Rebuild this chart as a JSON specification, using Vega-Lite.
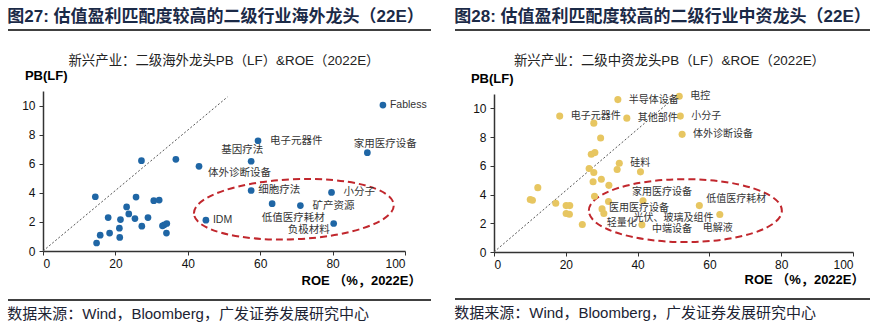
{
  "$schema": "https://vega.github.io/schema/vega-lite/v6.json",
  "background": "white",
  "padding": {"left": 7, "top": 8, "right": 0, "bottom": 0},
  "config": {
    "view": {"stroke": null},
    "axis": {
      "grid": false,
      "domainColor": "#333",
      "domainWidth": 1.5,
      "tickColor": "#333",
      "tickSize": 4,
      "labelFont": "Liberation Sans",
      "labelFontSize": 12,
      "labelColor": "#111",
      "labelPadding": 3,
      "titleFont": "Liberation Sans, Noto Sans CJK SC",
      "titleFontSize": 13,
      "titleFontWeight": "bold",
      "titleColor": "#000"
    },
    "axisY": {"labelPadding": 4}
  },
  "datasets": {
    "seg": [{"a": 0, "b": 1, "h": 1}],
    "left": [
      {"name": "", "roe": 14.45, "pb": 3.73},
      {"name": "", "roe": 14.8, "pb": 0.55},
      {"name": "", "roe": 15.8, "pb": 1.09},
      {"name": "", "roe": 18.0, "pb": 2.3},
      {"name": "", "roe": 18.4, "pb": 1.23},
      {"name": "", "roe": 21.1, "pb": 1.57},
      {"name": "", "roe": 21.2, "pb": 0.93},
      {"name": "", "roe": 21.4, "pb": 2.16},
      {"name": "", "roe": 23.1, "pb": 3.03},
      {"name": "", "roe": 23.7, "pb": 2.55},
      {"name": "", "roe": 25.4, "pb": 2.23},
      {"name": "", "roe": 25.7, "pb": 3.71},
      {"name": "", "roe": 27.3, "pb": 1.71},
      {"name": "", "roe": 29.0, "pb": 2.3},
      {"name": "", "roe": 30.6, "pb": 3.46},
      {"name": "", "roe": 32.1, "pb": 3.5},
      {"name": "", "roe": 33.0, "pb": 1.73},
      {"name": "", "roe": 33.5, "pb": 1.8},
      {"name": "", "roe": 34.2, "pb": 1.89},
      {"name": "", "roe": 34.1, "pb": 1.23},
      {"name": "", "roe": 27.2, "pb": 6.21},
      {"name": "", "roe": 36.7, "pb": 6.3},
      {"name": "IDM", "roe": 45.0, "pb": 2.12},
      {"name": "体外诊断设备", "roe": 43.1, "pb": 5.82},
      {"name": "Fabless", "roe": 93.9, "pb": 10.03},
      {"name": "电子元器件", "roe": 59.4, "pb": 7.58},
      {"name": "基因疗法", "roe": 57.5, "pb": 6.17},
      {"name": "家用医疗设备", "roe": 89.6, "pb": 6.76},
      {"name": "细胞疗法", "roe": 57.5, "pb": 4.16},
      {"name": "小分子", "roe": 79.7, "pb": 4.03},
      {"name": "低值医疗耗材", "roe": 63.3, "pb": 3.25},
      {"name": "矿产资源", "roe": 71.1, "pb": 3.12},
      {"name": "负极材料", "roe": 80.3, "pb": 1.89}
    ],
    "right": [
      {"name": "半导体设备", "roe": 34.5, "pb": 10.61},
      {"name": "电子元器件", "roe": 18.3, "pb": 9.46},
      {"name": "", "roe": 27.8, "pb": 8.97},
      {"name": "其他部件", "roe": 37.0, "pb": 9.32},
      {"name": "", "roe": 29.7, "pb": 7.94},
      {"name": "", "roe": 27.1, "pb": 6.8},
      {"name": "", "roe": 28.1, "pb": 6.92},
      {"name": "硅料", "roe": 34.9, "pb": 6.18},
      {"name": "", "roe": 26.5, "pb": 5.81},
      {"name": "", "roe": 27.8, "pb": 5.54},
      {"name": "", "roe": 34.3, "pb": 5.74},
      {"name": "", "roe": 40.8, "pb": 5.58},
      {"name": "", "roe": 12.2, "pb": 4.48},
      {"name": "", "roe": 27.6, "pb": 4.89},
      {"name": "", "roe": 29.9, "pb": 5.07},
      {"name": "", "roe": 32.0, "pb": 4.64},
      {"name": "", "roe": 28.0, "pb": 3.88},
      {"name": "光伏、玻璃及组件", "roe": 31.9, "pb": 3.51},
      {"name": "家用医疗设备", "roe": 41.5, "pb": 3.57},
      {"name": "", "roe": 10.1, "pb": 3.65},
      {"name": "", "roe": 10.7, "pb": 3.6},
      {"name": "", "roe": 17.2, "pb": 3.39},
      {"name": "", "roe": 20.1, "pb": 3.23},
      {"name": "", "roe": 21.1, "pb": 3.23},
      {"name": "", "roe": 20.1, "pb": 2.68},
      {"name": "", "roe": 21.0, "pb": 2.63},
      {"name": "", "roe": 24.6, "pb": 1.92},
      {"name": "医用医疗设备", "roe": 30.1, "pb": 3.0},
      {"name": "轻量化", "roe": 30.6, "pb": 2.68},
      {"name": "中端设备", "roe": 41.2, "pb": 1.89},
      {"name": "电控", "roe": 51.6, "pb": 10.84},
      {"name": "小分子", "roe": 51.9, "pb": 9.46},
      {"name": "体外诊断设备", "roe": 52.4, "pb": 8.19},
      {"name": "低值医疗耗材", "roe": 57.2, "pb": 3.23},
      {"name": "电解液", "roe": 62.9, "pb": 2.61}
    ],
    "diagL": [{"roe": 0, "pb": 0}, {"roe": 51, "pb": 10.6}],
    "diagR": [{"roe": 0, "pb": 0}, {"roe": 51, "pb": 10.9}],
    "ellL": [{"roe": 69.3, "pb": 2.87}],
    "ellR": [{"roe": 53.3, "pb": 2.88}]
  },
  "spacing": 22,
  "hconcat": [
    {
      "columns": 1,
      "align": "each",
      "spacing": 12,
      "concat": [
        {
          "width": 362,
          "height": 11,
          "data": {"name": "seg"},
          "title": {"text": "图27: 估值盈利匹配度较高的二级行业海外龙头（22E）", "anchor": "start", "frame": "bounds", "offset": 3, "fontSize": 17, "fontWeight": "bold", "font": "Liberation Sans, Noto Sans CJK SC", "color": "#1b2a47"},
          "mark": {"type": "rule", "color": "#000", "strokeWidth": 1.5},
          "encoding": {
            "x": {"field": "a", "type": "quantitative", "scale": {"domain": [0, 1], "range": [-35, 388]}, "axis": null},
            "x2": {"field": "b"},
            "y": {"field": "h", "type": "quantitative", "scale": {"domain": [0, 1]}, "axis": null}
          }
        },
        {
          "width": 362,
          "height": 160,
          "title": {"text": "新兴产业：二级海外龙头PB（LF）&ROE（2022E）", "anchor": "middle", "frame": "group", "offset": 2, "fontSize": 13.4, "fontWeight": "normal", "font": "Liberation Sans, Noto Sans CJK SC", "color": "#222"},
          "encoding": {
            "x": {"field": "roe", "type": "quantitative", "scale": {"domain": [0, 100], "nice": false, "zero": false},
                  "axis": {"values": [0, 20, 40, 60, 80, 100], "title": "ROE （%，2022E）", "titleAngle": 0, "titleAlign": "right", "titleBaseline": "middle", "titleX": 378, "titleY": 29}},
            "y": {"field": "pb", "type": "quantitative", "scale": {"domain": [0, 11], "nice": false, "zero": false},
                  "axis": {"values": [0, 2, 4, 6, 8, 10], "title": "PB(LF)", "titleAngle": 0, "titleAlign": "right", "titleBaseline": "middle", "titleX": 24, "titleY": -16}}
          },
          "layer": [
            {"data": {"name": "diagL"}, "mark": {"type": "line", "color": "#555", "strokeWidth": 1, "strokeDash": [2, 2]}},
            {"data": {"name": "ellL"}, "mark": {"type": "point", "shape": "M-1,0C-1,-0.1657,-0.5523,-0.3,0,-0.3C0.5523,-0.3,1,-0.1657,1,0C1,0.1657,0.5523,0.3,0,0.3C-0.5523,0.3,-1,0.1657,-1,0Z", "size": 40000, "filled": false, "stroke": "#c1272d", "strokeWidth": 2, "strokeDash": [7, 4], "angle": -2.5, "opacity": 1}},
            {"data": {"name": "left"}, "mark": {"type": "circle", "size": 45, "color": "#1f66a5", "opacity": 1}},
            {"data": {"name": "left"}, "transform": [{"filter": {"field": "name", "oneOf": ["Fabless", "细胞疗法", "IDM"]}}],
             "mark": {"type": "text", "align": "left", "baseline": "middle", "dx": 7, "dy": 0, "font": "Liberation Sans, Noto Sans CJK SC", "fontSize": 10.5, "color": "#333"},
             "encoding": {"text": {"field": "name"}}},
            {"data": {"name": "left"}, "transform": [{"filter": {"field": "name", "oneOf": ["电子元器件", "小分子", "矿产资源"]}}],
             "mark": {"type": "text", "align": "left", "baseline": "middle", "dx": 12, "dy": 0, "font": "Liberation Sans, Noto Sans CJK SC", "fontSize": 10.5, "color": "#333"},
             "encoding": {"text": {"field": "name"}}},
            {"data": {"name": "left"}, "transform": [{"filter": {"field": "name", "equal": "体外诊断设备"}}],
             "mark": {"type": "text", "align": "left", "baseline": "middle", "dx": 9, "dy": 7, "font": "Liberation Sans, Noto Sans CJK SC", "fontSize": 10.5, "color": "#333"},
             "encoding": {"text": {"field": "name"}}},
            {"data": {"name": "left"}, "transform": [{"filter": {"field": "name", "equal": "基因疗法"}}],
             "mark": {"type": "text", "align": "right", "baseline": "middle", "dx": 12, "dy": -11, "font": "Liberation Sans, Noto Sans CJK SC", "fontSize": 10.5, "color": "#333"},
             "encoding": {"text": {"field": "name"}}},
            {"data": {"name": "left"}, "transform": [{"filter": {"field": "name", "equal": "家用医疗设备"}}],
             "mark": {"type": "text", "align": "center", "baseline": "middle", "dx": 18, "dy": -9, "font": "Liberation Sans, Noto Sans CJK SC", "fontSize": 10.5, "color": "#333"},
             "encoding": {"text": {"field": "name"}}},
            {"data": {"name": "left"}, "transform": [{"filter": {"field": "name", "equal": "低值医疗耗材"}}],
             "mark": {"type": "text", "align": "center", "baseline": "middle", "dx": 21, "dy": 14, "font": "Liberation Sans, Noto Sans CJK SC", "fontSize": 10.5, "color": "#333"},
             "encoding": {"text": {"field": "name"}}},
            {"data": {"name": "left"}, "transform": [{"filter": {"field": "name", "equal": "负极材料"}}],
             "mark": {"type": "text", "align": "right", "baseline": "middle", "dx": -4, "dy": 6, "font": "Liberation Sans, Noto Sans CJK SC", "fontSize": 10.5, "color": "#333"},
             "encoding": {"text": {"field": "name"}}}
          ]
        },
        {
          "width": 362,
          "height": 1,
          "data": {"name": "seg"},
          "title": {"text": "数据来源：Wind，Bloomberg，广发证券发展研究中心", "orient": "bottom", "anchor": "start", "frame": "bounds", "offset": 6, "fontSize": 15, "fontWeight": "normal", "font": "Liberation Sans, Noto Sans CJK SC", "color": "#1c2333"},
          "mark": {"type": "rule", "color": "#000", "strokeWidth": 1.5},
          "encoding": {
            "x": {"field": "a", "type": "quantitative", "scale": {"domain": [0, 1], "range": [-35, 388]}, "axis": null},
            "x2": {"field": "b"},
            "y": {"field": "h", "type": "quantitative", "scale": {"domain": [0, 1]}, "axis": null}
          }
        }
      ]
    },
    {
      "columns": 1,
      "align": "each",
      "spacing": 12,
      "concat": [
        {
          "width": 359,
          "height": 11,
          "data": {"name": "seg"},
          "title": {"text": "图28: 估值盈利匹配度较高的二级行业中资龙头（22E）", "anchor": "start", "frame": "bounds", "offset": 3, "fontSize": 17, "fontWeight": "bold", "font": "Liberation Sans, Noto Sans CJK SC", "color": "#1b2a47"},
          "mark": {"type": "rule", "color": "#000", "strokeWidth": 1.5},
          "encoding": {
            "x": {"field": "a", "type": "quantitative", "scale": {"domain": [0, 1], "range": [-39, 376]}, "axis": null},
            "x2": {"field": "b"},
            "y": {"field": "h", "type": "quantitative", "scale": {"domain": [0, 1]}, "axis": null}
          }
        },
        {
          "width": 359,
          "height": 158,
          "title": {"text": "新兴产业：二级中资龙头PB（LF）&ROE（2022E）", "anchor": "middle", "frame": "group", "offset": 5, "dx": -4, "fontSize": 13.4, "fontWeight": "normal", "font": "Liberation Sans, Noto Sans CJK SC", "color": "#222"},
          "encoding": {
            "x": {"field": "roe", "type": "quantitative", "scale": {"domain": [0, 100], "nice": false, "zero": false},
                  "axis": {"values": [0, 20, 40, 60, 80, 100], "title": "ROE （%，2022E）", "titleAngle": 0, "titleAlign": "right", "titleBaseline": "middle", "titleX": 370, "titleY": 27}},
            "y": {"field": "pb", "type": "quantitative", "scale": {"domain": [0, 11], "nice": false, "zero": false},
                  "axis": {"values": [0, 2, 4, 6, 8, 10], "title": "PB(LF)", "titleAngle": 0, "titleAlign": "right", "titleBaseline": "middle", "titleX": 19, "titleY": -16}}
          },
          "layer": [
            {"data": {"name": "diagR"}, "mark": {"type": "line", "color": "#555", "strokeWidth": 1, "strokeDash": [2, 2]}},
            {"data": {"name": "ellR"}, "mark": {"type": "point", "shape": "M-1,0C-1,-0.18,-0.5523,-0.326,0,-0.326C0.5523,-0.326,1,-0.18,1,0C1,0.18,0.5523,0.326,0,0.326C-0.5523,0.326,-1,0.18,-1,0Z", "size": 37249, "filled": false, "stroke": "#c1272d", "strokeWidth": 2, "strokeDash": [7, 4], "opacity": 1}},
            {"data": {"name": "right"}, "mark": {"type": "circle", "size": 50, "color": "#e7c661", "opacity": 1}},
            {"data": {"name": "right"}, "transform": [{"filter": {"field": "name", "oneOf": ["半导体设备", "电控", "电子元器件", "其他部件", "小分子", "体外诊断设备", "硅料"]}}],
             "mark": {"type": "text", "align": "left", "baseline": "middle", "dx": 11, "dy": 0, "font": "Liberation Sans, Noto Sans CJK SC", "fontSize": 10, "color": "#333"},
             "encoding": {"text": {"field": "name"}}},
            {"data": {"name": "right"}, "transform": [{"filter": {"field": "name", "equal": "医用医疗设备"}}],
             "mark": {"type": "text", "align": "left", "baseline": "middle", "dx": 7, "dy": -1, "font": "Liberation Sans, Noto Sans CJK SC", "fontSize": 10, "color": "#333"},
             "encoding": {"text": {"field": "name"}}},
            {"data": {"name": "right"}, "transform": [{"filter": {"field": "name", "equal": "中端设备"}}],
             "mark": {"type": "text", "align": "left", "baseline": "middle", "dx": 10, "dy": 4, "font": "Liberation Sans, Noto Sans CJK SC", "fontSize": 10, "color": "#333"},
             "encoding": {"text": {"field": "name"}}},
            {"data": {"name": "right"}, "transform": [{"filter": {"field": "name", "equal": "轻量化"}}],
             "mark": {"type": "text", "align": "left", "baseline": "middle", "dx": 3, "dy": 9, "font": "Liberation Sans, Noto Sans CJK SC", "fontSize": 10, "color": "#333"},
             "encoding": {"text": {"field": "name"}}},
            {"data": {"name": "right"}, "transform": [{"filter": {"field": "name", "equal": "光伏、玻璃及组件"}}],
             "mark": {"type": "text", "align": "left", "baseline": "middle", "dx": 25, "dy": 16, "font": "Liberation Sans, Noto Sans CJK SC", "fontSize": 10, "color": "#333"},
             "encoding": {"text": {"field": "name"}}},
            {"data": {"name": "right"}, "transform": [{"filter": {"field": "name", "equal": "家用医疗设备"}}],
             "mark": {"type": "text", "align": "left", "baseline": "middle", "dx": -11, "dy": -9, "font": "Liberation Sans, Noto Sans CJK SC", "fontSize": 10, "color": "#333"},
             "encoding": {"text": {"field": "name"}}},
            {"data": {"name": "right"}, "transform": [{"filter": {"field": "name", "equal": "低值医疗耗材"}}],
             "mark": {"type": "text", "align": "left", "baseline": "middle", "dx": 7, "dy": -7, "font": "Liberation Sans, Noto Sans CJK SC", "fontSize": 10, "color": "#333"},
             "encoding": {"text": {"field": "name"}}},
            {"data": {"name": "right"}, "transform": [{"filter": {"field": "name", "equal": "电解液"}}],
             "mark": {"type": "text", "align": "right", "baseline": "middle", "dx": 13, "dy": 13, "font": "Liberation Sans, Noto Sans CJK SC", "fontSize": 10, "color": "#333"},
             "encoding": {"text": {"field": "name"}}}
          ]
        },
        {
          "width": 359,
          "height": 1,
          "data": {"name": "seg"},
          "title": {"text": "数据来源：Wind，Bloomberg，广发证券发展研究中心", "orient": "bottom", "anchor": "start", "frame": "bounds", "offset": 6, "fontSize": 15, "fontWeight": "normal", "font": "Liberation Sans, Noto Sans CJK SC", "color": "#1c2333"},
          "mark": {"type": "rule", "color": "#000", "strokeWidth": 1.5},
          "encoding": {
            "x": {"field": "a", "type": "quantitative", "scale": {"domain": [0, 1], "range": [-39, 376]}, "axis": null},
            "x2": {"field": "b"},
            "y": {"field": "h", "type": "quantitative", "scale": {"domain": [0, 1]}, "axis": null}
          }
        }
      ]
    }
  ]
}
